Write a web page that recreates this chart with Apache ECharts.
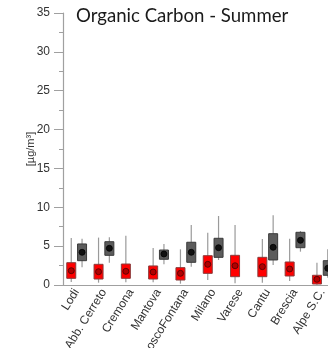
<!DOCTYPE html>
<html>
<head>
<meta charset="utf-8">
<script src="https://cdn.jsdelivr.net/npm/echarts@6/dist/echarts.min.js"></script>
<style>
  html, body { margin: 0; padding: 0; background: #ffffff; }
  #chart { width: 328px; height: 348px; }
</style>
</head>
<body>
<div id="chart"></div>
<script>
// Monitoring sites along the category axis
const sites = ['Lodi', 'Abb. Cerreto', 'Cremona', 'Mantova', 'BoscoFontana',
               'Milano', 'Varese', 'Cantu', 'Brescia', 'Alpe S.C.'];

// Red boxes: [lower whisker, Q1, Q3, upper whisker, centre dot] in µg/m³
const redStats = [
  [0.4, 0.86, 2.87, 6.05, 1.84],
  [0.3, 0.77, 2.66, 6.1, 1.71],
  [0.35, 0.86, 2.70, 6.35, 1.76],
  [0.35, 0.77, 2.45, 4.76, 1.67],
  [0.17, 0.64, 2.23, 4.59, 1.5],
  [0.64, 1.5, 3.77, 6.73, 2.66],
  [0.22, 1.07, 3.82, 7.72, 2.48],
  [0.3, 1.07, 3.56, 5.92, 2.36],
  [0.51, 1.16, 2.96, 5.96, 2.06],
  [0.02, 0.13, 1.25, 2.87, 0.73]
];

// Grey boxes: same layout, null where a site has no grey box
const greyStats = [
  [2.28, 3.13, 5.28, 5.96, 4.21],
  [2.87, 3.82, 5.57, 6.14, 4.72],
  null,
  [2.66, 3.31, 4.5, 5.28, 3.99],
  [2.36, 2.92, 5.5, 7.72, 4.21],
  [3.22, 3.56, 6.01, 8.88, 4.8],
  null,
  [2.57, 3.22, 6.6, 8.97, 4.85],
  [4.29, 4.8, 6.78, 6.95, 5.75],
  [0.94, 1.25, 3.13, 4.59, 2.15]
];

// Value-axis ticks
const yTicks = [0, 5, 10, 15, 20, 25, 30, 35];

function toRows(stats) {
  const rows = [];
  stats.forEach(function (s, i) {
    if (s) rows.push([i].concat(s));
  });
  return rows;
}

function boxRenderer(offset, fill, border, dotFill, dotStroke) {
  return function (params, api) {
    const idx = api.value(0);
    const lo = api.coord([idx, api.value(1)]);
    const q1 = api.coord([idx, api.value(2)]);
    const q3 = api.coord([idx, api.value(3)]);
    const hi = api.coord([idx, api.value(4)]);
    const dot = api.coord([idx, api.value(5)]);
    const x = lo[0] + offset;
    const w = 9;
    return {
      type: 'group',
      children: [
        {
          type: 'line',
          shape: { x1: x, y1: hi[1], x2: x, y2: lo[1] },
          style: { stroke: '#9a9a9a', lineWidth: 1.2 }
        },
        {
          type: 'rect',
          shape: { x: x - w / 2, y: q3[1], width: w, height: q1[1] - q3[1] },
          style: { fill: fill, stroke: border, lineWidth: 1 }
        },
        {
          type: 'circle',
          shape: { cx: x, cy: dot[1], r: 3 },
          style: { fill: dotFill, stroke: dotStroke, lineWidth: 0.8 }
        }
      ]
    };
  };
}

const chart = echarts.init(document.getElementById('chart'), null, { renderer: 'canvas' });

chart.setOption({
  animation: false,
  backgroundColor: '#ffffff',
  title: {
    text: 'Organic Carbon - Summer',
    left: 71,
    top: 1,
    textStyle: {
      fontFamily: 'Lato',
      fontWeight: 'normal',
      fontSize: 18.6,
      color: '#1a1a1a'
    }
  },
  grid: {
    left: 63, right: -8, top: 13, bottom: 63,
    containLabel: false,
    outerBoundsMode: 'none'
  },
  xAxis: {
    type: 'category',
    data: sites,
    boundaryGap: true,
    axisLine: { show: true, lineStyle: { color: '#a0a0a0', width: 1.2 } },
    axisTick: { show: false },
    axisLabel: {
      interval: 0,
      rotate: 58,
      margin: 5,
      hideOverlap: false,
      fontFamily: 'Liberation Sans',
      fontSize: 12,
      color: '#333333'
    },
    splitLine: { show: false }
  },
  yAxis: {
    type: 'value',
    min: yTicks[0],
    max: yTicks[yTicks.length - 1],
    interval: 5,
    name: '[µg/m³]',
    nameLocation: 'middle',
    nameGap: 27,
    nameMoveOverlap: false,
    nameTextStyle: { fontFamily: 'Liberation Sans', fontSize: 11, color: '#333333' },
    axisLine: { show: true, lineStyle: { color: '#a0a0a0', width: 1.2 } },
    axisTick: { show: true, inside: false, length: 9, lineStyle: { color: '#a0a0a0' } },
    minorTick: { show: true, splitNumber: 2, length: 4, lineStyle: { color: '#a0a0a0' } },
    axisLabel: {
      margin: 13,
      fontFamily: 'Liberation Sans',
      fontSize: 12,
      color: '#333333',
      formatter: function (v) { return yTicks.indexOf(v) >= 0 ? String(v) : ''; }
    },
    splitLine: { show: false }
  },
  series: [
    {
      type: 'custom',
      name: 'red',
      data: toRows(redStats),
      encode: { x: 0, y: [1, 2, 3, 4, 5] },
      clip: false,
      renderItem: boxRenderer(-5.4, '#ff0000', '#8a3a3a', '#b00000', '#4a0000')
    },
    {
      type: 'custom',
      name: 'grey',
      data: toRows(greyStats),
      encode: { x: 0, y: [1, 2, 3, 4, 5] },
      clip: false,
      renderItem: boxRenderer(5.4, '#5c5c5c', '#3a3a3a', '#111111', '#000000')
    }
  ]
});
</script>
</body>
</html>
